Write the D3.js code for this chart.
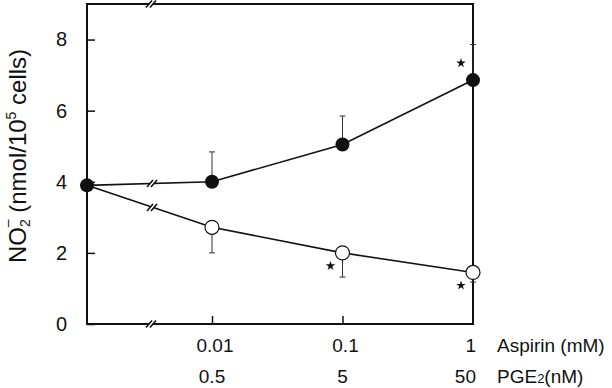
<!DOCTYPE html>
<html>
<head>
<meta charset="utf-8">
<script src="https://cdn.jsdelivr.net/npm/d3@7"></script>
<style>
  body { margin: 0; background: #fff; }
  text { font-family: Arial, "Liberation Sans", sans-serif; fill: #111; }
</style>
</head>
<body>
<svg id="chart"></svg>
<script>
const width = 612, height = 388;
const margin = {top: 4, right: 139, bottom: 64, left: 87};

// doses on the x axis
const aspirinDose = [0.01, 0.1, 1];      // mM
const pgeDose = ["0.5", "5", "50"];      // nM, same positions
const controlValue = 3.9;

// filled circles: aspirin
const aspirinMean = [4.0, 5.05, 6.86];
const aspirinSD = [0.84, 0.8, 1.0];
const aspirinStar = [false, false, true];

// open circles: PGE2
const pgeMean = [2.72, 2.0, 1.45];
const pgeSD = [0.72, 0.68, 0.27];
const pgeStar = [false, true, true];

const yTicks = [0, 2, 4, 6, 8];

const svg = d3.select("#chart").attr("width", width).attr("height", height);

const x = d3.scaleLog().domain([0.01, 1]).range([212, width - margin.right]);
const xControl = margin.left;
const y = d3.scaleLinear().domain([0, 9]).range([height - margin.bottom, margin.top]);

const x0 = margin.left, x1 = width - margin.right;
const y0 = height - margin.bottom, y1 = margin.top;
const xBreak = 152;

// frame
const frame = svg.append("g").attr("stroke", "#111").attr("stroke-width", 2).attr("fill", "none");
frame.append("path").attr("d", `M${x0},${y1}H${x1}V${y0}H${x0}Z`);

// y axis ticks (inward)
const yAxis = svg.append("g")
    .attr("transform", `translate(${x0},0)`)
    .call(d3.axisLeft(y).tickValues(yTicks).tickSize(-8).tickPadding(20));
yAxis.select(".domain").remove();
yAxis.selectAll(".tick line").attr("stroke", "#111").attr("stroke-width", 1.5);
yAxis.selectAll(".tick text").style("font-size", "20px").attr("fill", "#111");

// x axis ticks (inward)
const xAxis = svg.append("g")
    .attr("transform", `translate(0,${y0})`)
    .call(d3.axisBottom(x).tickValues(aspirinDose.slice(0, 2)).tickSize(-8).tickFormat(""));
xAxis.select(".domain").remove();
xAxis.selectAll(".tick line").attr("stroke", "#111").attr("stroke-width", 1.5);

// x labels
const labelRow1 = 352, labelRow2 = 383;
aspirinDose.forEach((d, i) => {
    const last = i === aspirinDose.length - 1;
    svg.append("text")
        .attr("x", x(d) + 3)
        .attr("y", labelRow1)
        .attr("text-anchor", last ? "end" : "middle")
        .style("font-size", "19px")
        .text(d);
    svg.append("text")
        .attr("x", last ? x(d) + 3 : x(d))
        .attr("y", labelRow2)
        .attr("text-anchor", last ? "end" : "middle")
        .style("font-size", "19px")
        .text(pgeDose[i]);
});
svg.append("text").attr("x", 497).attr("y", labelRow1).style("font-size", "19px").text("Aspirin (mM)");
const pgeLabel = svg.append("text").attr("x", 497).attr("y", labelRow2).style("font-size", "19px");
pgeLabel.append("tspan").text("PGE");
pgeLabel.append("tspan").style("font-size", "13px").text("2");
pgeLabel.append("tspan").text("(nM)");

// y label
const yLabel = svg.append("text")
    .attr("transform", `translate(26,${(y0 + y1) / 2 - 8}) rotate(-90)`)
    .attr("text-anchor", "middle")
    .style("font-size", "24px");
yLabel.append("tspan").text("NO");
yLabel.append("tspan").style("font-size", "14px").attr("dy", 4).text("2");
yLabel.append("tspan").style("font-size", "14px").attr("dx", -8).attr("dy", -18).text("\u2013");
yLabel.append("tspan").attr("dy", 14).text(" (nmol/10");
yLabel.append("tspan").style("font-size", "14px").attr("dy", -10).text("5");
yLabel.append("tspan").attr("dy", 10).text(" cells)");

// series
function series(means, sds, stars, up) {
    const pts = [{x: xControl, y: y(controlValue)}]
        .concat(means.map((m, i) => ({x: x(aspirinDose[i]), y: y(m), sd: sds[i], star: stars[i], m: m})));
    const g = svg.append("g");
    g.append("path")
        .attr("d", d3.line().x(d => d.x).y(d => d.y)(pts))
        .attr("fill", "none").attr("stroke", "#111").attr("stroke-width", 1.6);

    // error bars, one side only
    pts.slice(1).forEach(p => {
        const ye = y(up ? p.m + p.sd : p.m - p.sd);
        g.append("line").attr("x1", p.x).attr("x2", p.x).attr("y1", p.y).attr("y2", ye)
            .attr("stroke", "#333").attr("stroke-width", 1);
        g.append("line").attr("x1", p.x - 3).attr("x2", p.x + 3).attr("y1", ye).attr("y2", ye)
            .attr("stroke", "#333").attr("stroke-width", 1);
    });

    // break on first segment
    const a = pts[0], b = pts[1];
    const yb = a.y + (b.y - a.y) * (xBreak + 1 - a.x) / (b.x - a.x);
    breakMark(xBreak + 1, yb);

    pts.slice(1).forEach(p => {
        if (p.star) {
            g.append("path")
                .attr("d", d3.symbol().type(d3.symbolStar).size(28)())
                .attr("transform", `translate(${p.x - 12},${p.y + (up ? -17 : 13)})`)
                .attr("fill", "#111");
        }
    });
    return pts;
}

function breakMark(cx, cy) {
    svg.append("rect").attr("x", cx - 3).attr("y", cy - 3).attr("width", 4).attr("height", 6).attr("fill", "#fff");
    [-3, 1].forEach(o => {
        svg.append("line")
            .attr("x1", cx + o - 3).attr("y1", cy + 3.5)
            .attr("x2", cx + o + 3).attr("y2", cy - 3.5)
            .attr("stroke", "#111").attr("stroke-width", 1.6);
    });
}

const ptsA = series(aspirinMean, aspirinSD, aspirinStar, true);
const ptsP = series(pgeMean, pgeSD, pgeStar, false);

// axis breaks
breakMark(xBreak, y1);
breakMark(xBreak, y0);

// markers
svg.append("g").selectAll("circle").data(ptsP.slice(1)).join("circle")
    .attr("cx", d => d.x).attr("cy", d => d.y).attr("r", 7)
    .attr("fill", "#fff").attr("stroke", "#111").attr("stroke-width", 1.2);
svg.append("g").selectAll("circle").data(ptsA).join("circle")
    .attr("cx", d => d.x).attr("cy", d => d.y).attr("r", 7)
    .attr("fill", "#111");
</script>
</body>
</html>
